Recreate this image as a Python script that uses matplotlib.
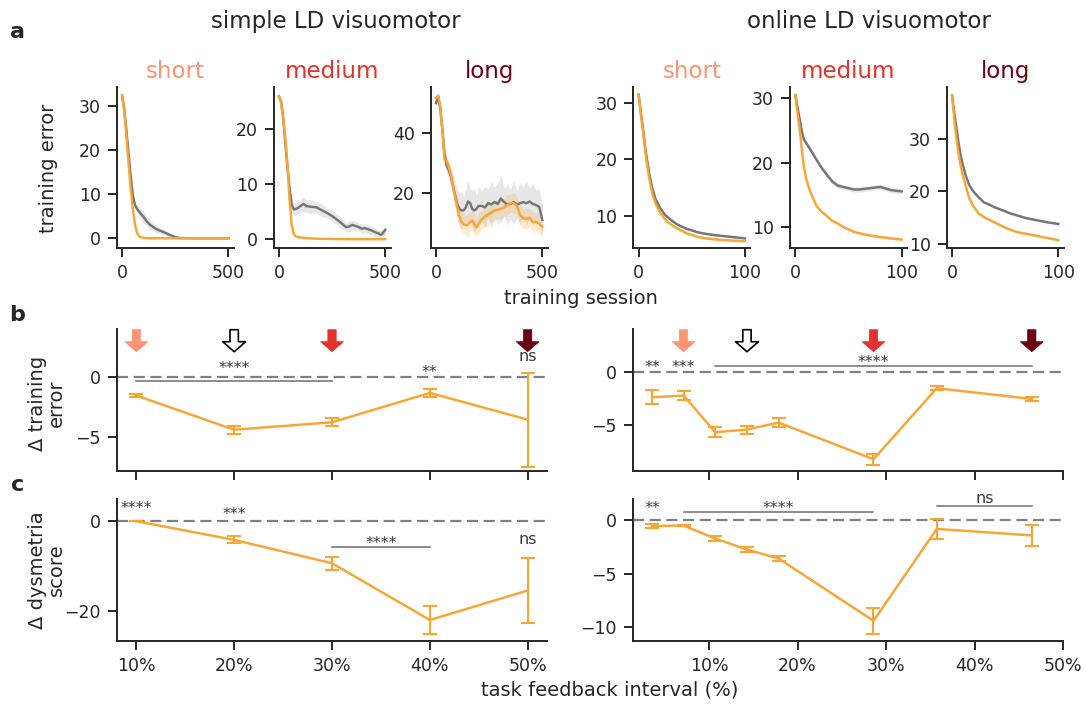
import numpy as np
import matplotlib
matplotlib.use('Agg')
import matplotlib.pyplot as plt

# ---- learning curves (training error vs session) ----
# simple LD visuomotor, sessions 0-500
simple_short_x = [0, 10, 20, 30, 40, 50, 60, 70, 80, 90, 100, 115, 130, 145, 160,
                  180, 200, 225, 250, 275, 350, 500]
simple_short_ctrl = [32.4, 29.3, 24.6, 19.3, 14.2, 9.9, 7.6, 6.7, 6.0, 5.4, 4.9, 3.9, 3.1,
                     2.6, 2.1, 1.7, 1.3, 0.75, 0.25, 0.05, 0, 0]
simple_short_ctrl_sd = [0.2, 0.3, 0.4, 0.5, 0.5, 0.6, 0.6, 0.7, 0.9, 1.1, 1.4, 0.9, 1.3,
                        0.8, 0.9, 0.6, 0.5, 0.4, 0.2, 0.1, 0, 0]
simple_short_ld = [32.4, 28.8, 23.2, 17.2, 11.5, 6.7, 3.3, 1.2, 0.45, 0.2, 0.1, 0.05, 0,
                   0, 0, 0, 0, 0, 0, 0, 0, 0]
simple_short_ld_sd = [0.2, 0.3, 0.4, 0.5, 0.5, 0.4, 0.3, 0.2, 0.1, 0.05, 0, 0, 0,
                      0, 0, 0, 0, 0, 0, 0, 0, 0]

simple_medium_x = [0, 10, 20, 30, 40, 50, 60, 70, 80, 90, 100, 115, 130, 150, 175, 200,
                   225, 250, 275, 300, 315, 330, 345, 360, 375, 390, 405, 420, 435, 450,
                   465, 480, 490, 500]
simple_medium_ctrl = [26.0, 25.0, 22.2, 17.5, 13.0, 9.3, 6.3, 5.4, 5.5, 5.7, 6.0, 6.4, 6.0,
                      5.9, 5.8, 5.3, 4.8, 4.2, 3.5, 2.7, 2.2, 2.3, 2.6, 2.4, 2.2, 1.9,
                      2.0, 1.8, 1.6, 1.3, 1.1, 0.8, 1.2, 1.7]
simple_medium_ctrl_sd = [0.2, 0.3, 0.4, 0.5, 0.6, 0.8, 1.0, 1.1, 1.3, 1.0, 1.2, 1.4, 1.1,
                         1.3, 1.0, 1.2, 0.9, 1.1, 0.9, 1.0, 0.8, 1.0, 0.8, 0.9, 0.7, 0.9,
                         0.8, 0.9, 0.7, 0.8, 0.6, 0.8, 0.7, 0.8]
simple_medium_ld = [26.0, 24.8, 22.0, 18.3, 13.7, 7.2, 2.6, 0.9, 0.5, 0.36, 0.3, 0.25, 0.2,
                    0.15, 0.1, 0.05, 0.05, 0.05, 0, 0, 0, 0, 0, 0, 0, 0, 0, 0, 0, 0,
                    0, 0, 0, 0]
simple_medium_ld_sd = [0.2, 0.3, 0.4, 0.5, 0.5, 0.5, 0.3, 0.2, 0.1, 0.05, 0, 0, 0, 0, 0, 0,
                       0, 0, 0, 0, 0, 0, 0, 0, 0, 0, 0, 0, 0, 0, 0, 0, 0, 0]

simple_long_x = [0, 10, 20, 30, 40, 50, 60, 70, 80, 90, 100, 110, 120, 130, 140, 150, 160,
                 170, 180, 190, 200, 215, 230, 245, 260, 275, 290, 305, 320, 335, 350,
                 365, 380, 395, 410, 425, 440, 455, 470, 485, 500]
simple_long_ctrl = [50.0, 52.4, 48.0, 41.0, 33.0, 29.0, 27.5, 25.5, 22.0, 19.0, 16.0, 14.5,
                    14.0, 14.0, 15.0, 17.0, 16.5, 14.5, 14.0, 14.5, 15.5, 15.5, 15.0, 16.5,
                    16.0, 16.8, 16.2, 18.0, 16.8, 16.0, 16.2, 16.8, 16.0, 16.4, 16.8, 16.4,
                    17.0, 16.2, 15.8, 15.2, 10.8]
simple_long_ctrl_sd = [1.0, 1.0, 1.5, 2.0, 2.5, 2.5, 3.0, 3.0, 4.0, 4.5, 5.0, 5.5, 6.5, 4.5,
                       6.0, 7.5, 5.0, 6.0, 7.5, 4.5, 6.5, 5.0, 7.0, 4.5, 8.0, 5.0, 7.0, 8.0,
                       4.5, 7.0, 5.0, 7.5, 4.5, 7.0, 5.0, 7.5, 4.5, 7.0, 5.0, 6.0, 5.0]
simple_long_ld = [51.7, 52.4, 49.0, 41.0, 31.0, 30.6, 28.5, 26.0, 22.0, 18.5, 15.0, 12.0,
                  10.2, 9.4, 9.0, 9.2, 10.0, 10.6, 9.5, 8.3, 9.5, 11.0, 12.0, 12.7, 13.3,
                  14.0, 14.2, 14.5, 15.0, 15.8, 16.4, 16.5, 15.6, 12.5, 11.3, 11.2, 11.6,
                  10.0, 10.2, 9.5, 8.5]
simple_long_ld_sd = [1.0, 1.0, 1.5, 2.0, 2.0, 2.0, 2.5, 2.5, 3.0, 3.0, 3.5, 3.5, 3.5, 3.0,
                     3.5, 4.0, 3.0, 3.5, 4.0, 3.0, 3.5, 3.0, 3.5, 4.0, 3.0, 3.5, 3.0, 3.5,
                     3.0, 3.5, 3.0, 3.5, 3.0, 3.5, 3.0, 3.5, 3.0, 3.5, 3.0, 3.5, 3.0]

# online LD visuomotor, sessions 0-100
online_x = [0, 2, 4, 6, 8, 10, 13, 16, 20, 25, 30, 35, 40, 45, 50, 55, 60, 70, 80, 90, 100]
online_short_ctrl = [31.4, 28.4, 25.5, 22.4, 19.8, 17.5, 14.8, 13.0, 11.5, 10.2, 9.4, 8.7,
                     8.2, 7.8, 7.5, 7.2, 7.0, 6.7, 6.5, 6.3, 6.1]
online_short_ld = [31.4, 28.2, 25.1, 21.8, 19.0, 16.6, 13.9, 12.2, 10.7, 9.4, 8.6, 8.0,
                   7.5, 7.0, 6.7, 6.4, 6.2, 5.95, 5.8, 5.7, 5.6]
online_medium_ctrl = [30.5, 28.6, 26.8, 25.0, 23.6, 23.1, 22.3, 21.5, 20.4, 19.1, 18.0,
                      17.0, 16.4, 16.2, 16.0, 15.8, 15.8, 16.0, 16.2, 15.7, 15.5]
online_medium_ld = [30.5, 27.8, 25.4, 22.2, 19.4, 17.6, 15.9, 14.7, 13.2, 12.3, 11.6, 10.9,
                    10.5, 10.0, 9.6, 9.2, 9.0, 8.65, 8.4, 8.2, 8.0]
online_long_ctrl = [38.4, 35.2, 32.4, 29.5, 27.0, 25.2, 23.0, 21.3, 20.0, 18.9, 17.9, 17.5,
                    17.0, 16.6, 16.2, 15.8, 15.5, 14.9, 14.5, 14.1, 13.8]
online_long_ld = [38.4, 34.0, 30.4, 27.5, 25.0, 23.2, 21.0, 18.8, 17.2, 15.8, 15.1, 14.6,
                  14.1, 13.6, 13.1, 12.7, 12.3, 11.9, 11.5, 11.1, 10.7]
online_short_sd = [0.2] * 21
online_medium_ctrl_sd = [0.4] * 21
online_long_sd = [0.25] * 21

# ---- effect of task feedback interval ----
simple_pct = [10, 20, 30, 40, 50]
simple_d_err = [-1.53, -4.37, -3.75, -1.31, -3.53]
simple_d_err_sem = [0.14, 0.33, 0.32, 0.32, 3.9]
simple_d_dys = [0.0, -4.18, -9.4, -22.1, -15.5]
simple_d_dys_sem = [0.0, 0.8, 1.45, 3.1, 7.2]

online_pct = [3.57, 7.14, 10.71, 14.29, 17.86, 28.57, 35.71, 46.43]
online_d_err = [-2.39, -2.23, -5.69, -5.44, -4.78, -8.24, -1.54, -2.55]
online_d_err_sem = [0.65, 0.4, 0.45, 0.38, 0.4, 0.53, 0.17, 0.17]
online_d_dys = [-0.53, -0.5, -1.71, -2.74, -3.58, -9.41, -0.81, -1.42]
online_d_dys_sem = [0.2, 0.05, 0.2, 0.25, 0.23, 1.2, 0.9, 1.0]

# interval markers: (x, kind)
simple_arrows = [(10, 'short'), (20, 'open'), (30, 'medium'), (50, 'long')]
online_arrows = [(7.14, 'short'), (14.29, 'open'), (28.57, 'medium'), (46.43, 'long')]

# significance: bars (x0, x1, y) and labels (x, y, text)
simple_err_bars = [(10, 30, -0.3)]
simple_err_labels = [(20, 0.74, '****'), (40, 0.35, '**'), (50, 1.69, 'ns')]
online_err_bars = [(10.71, 46.43, 0.59)]
online_err_labels = [(3.57, 0.43, '**'), (7.14, 0.43, '***'), (28.57, 0.91, '****')]
simple_dys_bars = [(30, 40, -5.68)]
simple_dys_labels = [(10, 2.82, '****'), (20, 1.54, '***'), (35, -4.94, '****'),
                     (50, -4.18, 'ns')]
online_dys_bars = [(7.14, 28.57, 0.75), (35.71, 46.43, 1.37)]
online_dys_labels = [(3.57, 1.11, '**'), (17.86, 1.11, '****'), (41.07, 2.06, 'ns')]

ORANGE = '#F8A533'
CTRL_GRAY = '#767676'
DARK = '#262626'
interval_colors = {'short': '#FC9476', 'medium': '#E3312B', 'long': '#6B0010'}

plt.rcParams.update({
    'font.family': 'DejaVu Sans',
    'font.size': 12.5,
    'axes.linewidth': 1.4,
    'axes.edgecolor': DARK,
    'xtick.major.width': 1.4,
    'ytick.major.width': 1.4,
    'xtick.major.size': 6.5,
    'ytick.major.size': 6.5,
    'xtick.major.pad': 5,
    'ytick.major.pad': 5,
    'xtick.color': DARK,
    'ytick.color': DARK,
    'xtick.labelsize': 12.5,
    'ytick.labelsize': 12.5,
    'text.color': DARK,
    'axes.spines.top': False,
    'axes.spines.right': False,
})

W, H = 1086, 704
fig = plt.figure(figsize=(W / 100, H / 100), dpi=100)


def px_axes(left, top, width, height):
    # place an axes from pixel coordinates (origin top-left)
    return fig.add_axes([left / W, 1 - (top + height) / H, width / W, height / H])


def curve(ax, x, y, sd, color, band_color, band_alpha):
    x = np.asarray(x)
    y = np.asarray(y)
    sd = np.asarray(sd)
    ax.fill_between(x, y - sd, y + sd, color=band_color, alpha=band_alpha, lw=0)
    ax.plot(x, y, color=color, lw=1.75)


# ---- panel a: learning curves ----
top_lefts = [116.8, 273.6, 430.7, 633.3, 790.0, 946.7]
curves = [
    (simple_short_x, simple_short_ctrl, simple_short_ctrl_sd, simple_short_ld, simple_short_ld_sd),
    (simple_medium_x, simple_medium_ctrl, simple_medium_ctrl_sd, simple_medium_ld, simple_medium_ld_sd),
    (simple_long_x, simple_long_ctrl, simple_long_ctrl_sd, simple_long_ld, simple_long_ld_sd),
    (online_x, online_short_ctrl, online_short_sd, online_short_ld, online_short_sd),
    (online_x, online_medium_ctrl, online_medium_ctrl_sd, online_medium_ld, online_short_sd),
    (online_x, online_long_ctrl, online_long_sd, online_long_ld, online_short_sd),
]
titles = ['short', 'medium', 'long'] * 2
ylims = [(-2.2, 34.2), (-1.6, 27.6), (1.4, 55.3), (4.4, 32.7), (6.7, 31.7), (9.2, 39.9)]
yticks = [[0, 10, 20, 30], [0, 10, 20], [20, 40], [10, 20, 30], [10, 20, 30], [10, 20, 30]]

for i, (x, ctrl, ctrl_sd, ld, ld_sd) in enumerate(curves):
    ax = px_axes(top_lefts[i], 87.3, 117, 160.7)
    curve(ax, x, ctrl, ctrl_sd, CTRL_GRAY, '#C4C4C4', 0.4)
    curve(ax, x, ld, ld_sd, ORANGE, ORANGE, 0.22)
    xmax = 500 if i < 3 else 100
    ax.set_xlim(-0.05 * xmax, 1.05 * xmax)
    ax.set_xticks([0, xmax])
    ax.set_ylim(*ylims[i])
    ax.set_yticks(yticks[i])
    ax.set_title(titles[i], color=interval_colors[titles[i]], fontsize=16.5, pad=6.5)

fig.text(336 / W, 1 - 28.3 / H, 'simple LD visuomotor', ha='center', va='baseline', fontsize=16.5)
fig.text(869 / W, 1 - 28.3 / H, 'online LD visuomotor', ha='center', va='baseline', fontsize=16.5)
fig.text(49 / W, 1 - 168 / H, 'training error', rotation=90, ha='center', va='center', fontsize=14)
fig.text(581 / W, 1 - 304 / H, 'training session', ha='center', va='baseline', fontsize=14)


# ---- panels b and c: change vs feedback interval ----
def delta_panel(ax, pct, mean, sem, bars, labels, ylim, ytick, xlim):
    ax.axhline(0, color='#808080', lw=1.6, ls=(0, (5, 2.5)), zorder=1)
    ax.errorbar(pct, mean, yerr=sem, color=ORANGE, lw=1.75, elinewidth=1.5,
                capsize=5, capthick=1.5, zorder=3)
    for x0, x1, y in bars:
        ax.plot([x0, x1], [y, y], color='#6E6E6E', lw=1.1, zorder=2)
    for x, y, s in labels:
        ax.text(x, y, s, ha='center', va='center', fontsize=11.5, color='#3A3A3A')
    ax.set_xlim(*xlim)
    ax.set_ylim(*ylim)
    ax.set_yticks(ytick)
    ax.set_xticks([10, 20, 30, 40, 50])


def interval_arrows(ax, arrows):
    for x, kind in arrows:
        if kind == 'open':
            fc, ec, lw = 'white', 'black', 1.2
        else:
            fc, ec, lw = interval_colors[kind], interval_colors[kind], 0.5
        ax.annotate('', xy=(x, 0.84), xytext=(x, 0.995),
                    xycoords=('data', 'axes fraction'),
                    textcoords=('data', 'axes fraction'),
                    arrowprops=dict(arrowstyle='simple,head_length=0.72,head_width=1.65,tail_width=0.6',
                                    fc=fc, ec=ec, lw=lw, shrinkA=0, shrinkB=0,
                                    mutation_scale=10), zorder=4)


ax_b1 = px_axes(116.8, 329, 430.4, 142)
delta_panel(ax_b1, simple_pct, simple_d_err, simple_d_err_sem, simple_err_bars,
            simple_err_labels, (-7.8, 4.0), [-5, 0], (8, 52))
interval_arrows(ax_b1, simple_arrows)
ax_b1.set_xticklabels([])

ax_b2 = px_axes(633, 329, 430.4, 142)
delta_panel(ax_b2, online_pct, online_d_err, online_d_err_sem, online_err_bars,
            online_err_labels, (-9.35, 4.05), [-5, 0], (1.43, 50))
interval_arrows(ax_b2, online_arrows)
ax_b2.set_xticklabels([])

ax_c1 = px_axes(116.8, 499.3, 430.4, 141.7)
delta_panel(ax_c1, simple_pct, simple_d_dys, simple_d_dys_sem, simple_dys_bars,
            simple_dys_labels, (-26.8, 4.9), [-20, 0], (8, 52))
ax_c1.set_xticklabels(['10%', '20%', '30%', '40%', '50%'])

ax_c2 = px_axes(633, 499.3, 430.4, 141.7)
delta_panel(ax_c2, online_pct, online_d_dys, online_d_dys_sem, online_dys_bars,
            online_dys_labels, (-11.3, 1.96), [-10, -5, 0], (1.43, 50))
ax_c2.set_xticklabels(['10%', '20%', '30%', '40%', '50%'])

fig.text(47 / W, 1 - 403 / H, 'Δ training\nerror', rotation=90, ha='center', va='center',
         fontsize=14, multialignment='center', linespacing=1.0)
fig.text(47 / W, 1 - 570 / H, 'Δ dysmetria\nscore', rotation=90, ha='center', va='center',
         fontsize=14, multialignment='center', linespacing=1.0)
fig.text(610 / W, 1 - 696 / H, 'task feedback interval (%)', ha='center', va='baseline',
         fontsize=14)

# panel letters
for letter, (lx, ly) in zip('abc', [(17, 31.7), (17.5, 315), (17.5, 485)]):
    fig.text(lx / W, 1 - ly / H, letter, ha='center', va='center', fontsize=16,
             fontweight='bold')

fig.savefig('out.png', dpi=100)
